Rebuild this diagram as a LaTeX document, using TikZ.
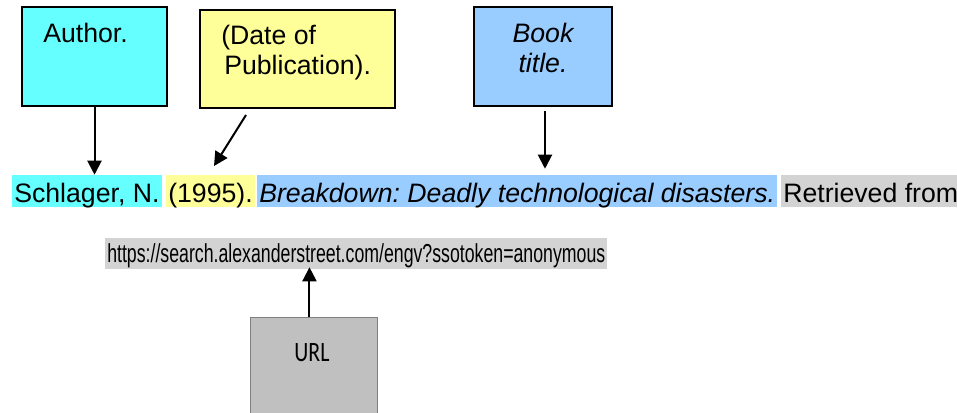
\documentclass[tikz,border=0pt]{standalone}
\usepackage{graphicx}
\usepackage{fontspec}
\setmainfont{Liberation Sans}
\newfontfamily\carlitofont{Carlito}
\usetikzlibrary{arrows.meta}
\definecolor{hlcyan}{HTML}{66FFFF}
\definecolor{hlyellow}{HTML}{FFFF99}
\definecolor{hlblue}{HTML}{99CCFF}
\definecolor{hlgray}{HTML}{D3D3D3}
\definecolor{urlfill}{HTML}{C0C0C0}
\definecolor{urlborder}{HTML}{7F7F7F}
\begin{document}
\frenchspacing
\begin{tikzpicture}[x=0.75pt,y=-0.75pt,
  every node/.style={font=\fontsize{20}{22.5}\selectfont},
  labelbox/.style={draw=black, line width=1.5pt, anchor=north west, inner sep=0pt},
  hl/.style={anchor=base west, inner xsep=1.5pt, inner ysep=0pt, text height=20.25pt, text depth=3.75pt},
  arr/.style={line width=1.5pt, -{Triangle[width=10.5pt,length=10.5pt]}},
  boxtext/.style={inner sep=0pt}
]
\useasboundingbox[fill=white] (0,0) rectangle (957,412);

% label boxes
\node[labelbox, fill=hlcyan, minimum width=108.75pt, minimum height=74.25pt] (author) at (21,6) {};
\node[boxtext, anchor=base west] (authorT) at (43,42) {Author.};
\node[labelbox, fill=hlyellow, minimum width=146.25pt, minimum height=73.5pt] (date) at (199,9) {};
\node[boxtext, anchor=north west, align=left] (dateT) at (221,25) {(Date of\\\hspace*{2.25pt}Publication).};
\node[labelbox, fill=hlblue, minimum width=103.5pt, minimum height=74.25pt] (book) at (473,6) {};
\node[boxtext, anchor=north, align=center, font=\fontsize{20}{22.5}\selectfont\itshape] (bookT) at (543,23) {Book\\title.};

% citation line
\node[hl, fill=hlcyan] (authorC) at (12,202) {Schlager, N.};
\node[hl, fill=hlyellow] (dateC) at (166,202) {(1995).};
\node[hl, fill=hlblue, font=\fontsize{20}{22.5}\selectfont\itshape] (titleC) at (257,202) {Breakdown: Deadly technological disasters.};
\node[hl, fill=hlgray] (retC) at (781,202) {Retrieved from};

% URL line
\node[anchor=base west, inner xsep=1.5pt, inner ysep=0pt, text height=18pt, text depth=5.25pt, fill=hlgray] (url) at (105,262)
  {\resizebox{373.5pt}{\height}{\fontsize{19.5}{22}\selectfont https://search.alexanderstreet.com/engv?ssotoken=anonymous}};

% URL box
\node[draw=urlborder, line width=0.75pt, fill=urlfill, anchor=north west, minimum width=95.25pt, minimum height=77.25pt, inner sep=0pt] (urlbox) at (250,317) {};
\node[inner sep=0pt, font=\carlitofont\fontsize{21}{24}\selectfont] (urlT) at (312,353) {\scalebox{0.78}[1]{URL}};

% arrows
\draw[arr] (author.south) -- (author.south |- authorC.north);
\coordinate (dateA) at (246,115);
\coordinate (dateB) at (214,166);
\draw[arr] (dateA) -- (dateB);
\draw[arr, shorten <=3pt, shorten >=4.5pt] ([xshift=1.5pt]book.south) -- ([xshift=1.5pt]book.south |- titleC.north);
\draw[arr, shorten >=-1.5pt] ([xshift=-3.4pt]urlbox.north) -- ([xshift=-3.4pt]urlbox.north |- url.south);
\end{tikzpicture}
\end{document}
